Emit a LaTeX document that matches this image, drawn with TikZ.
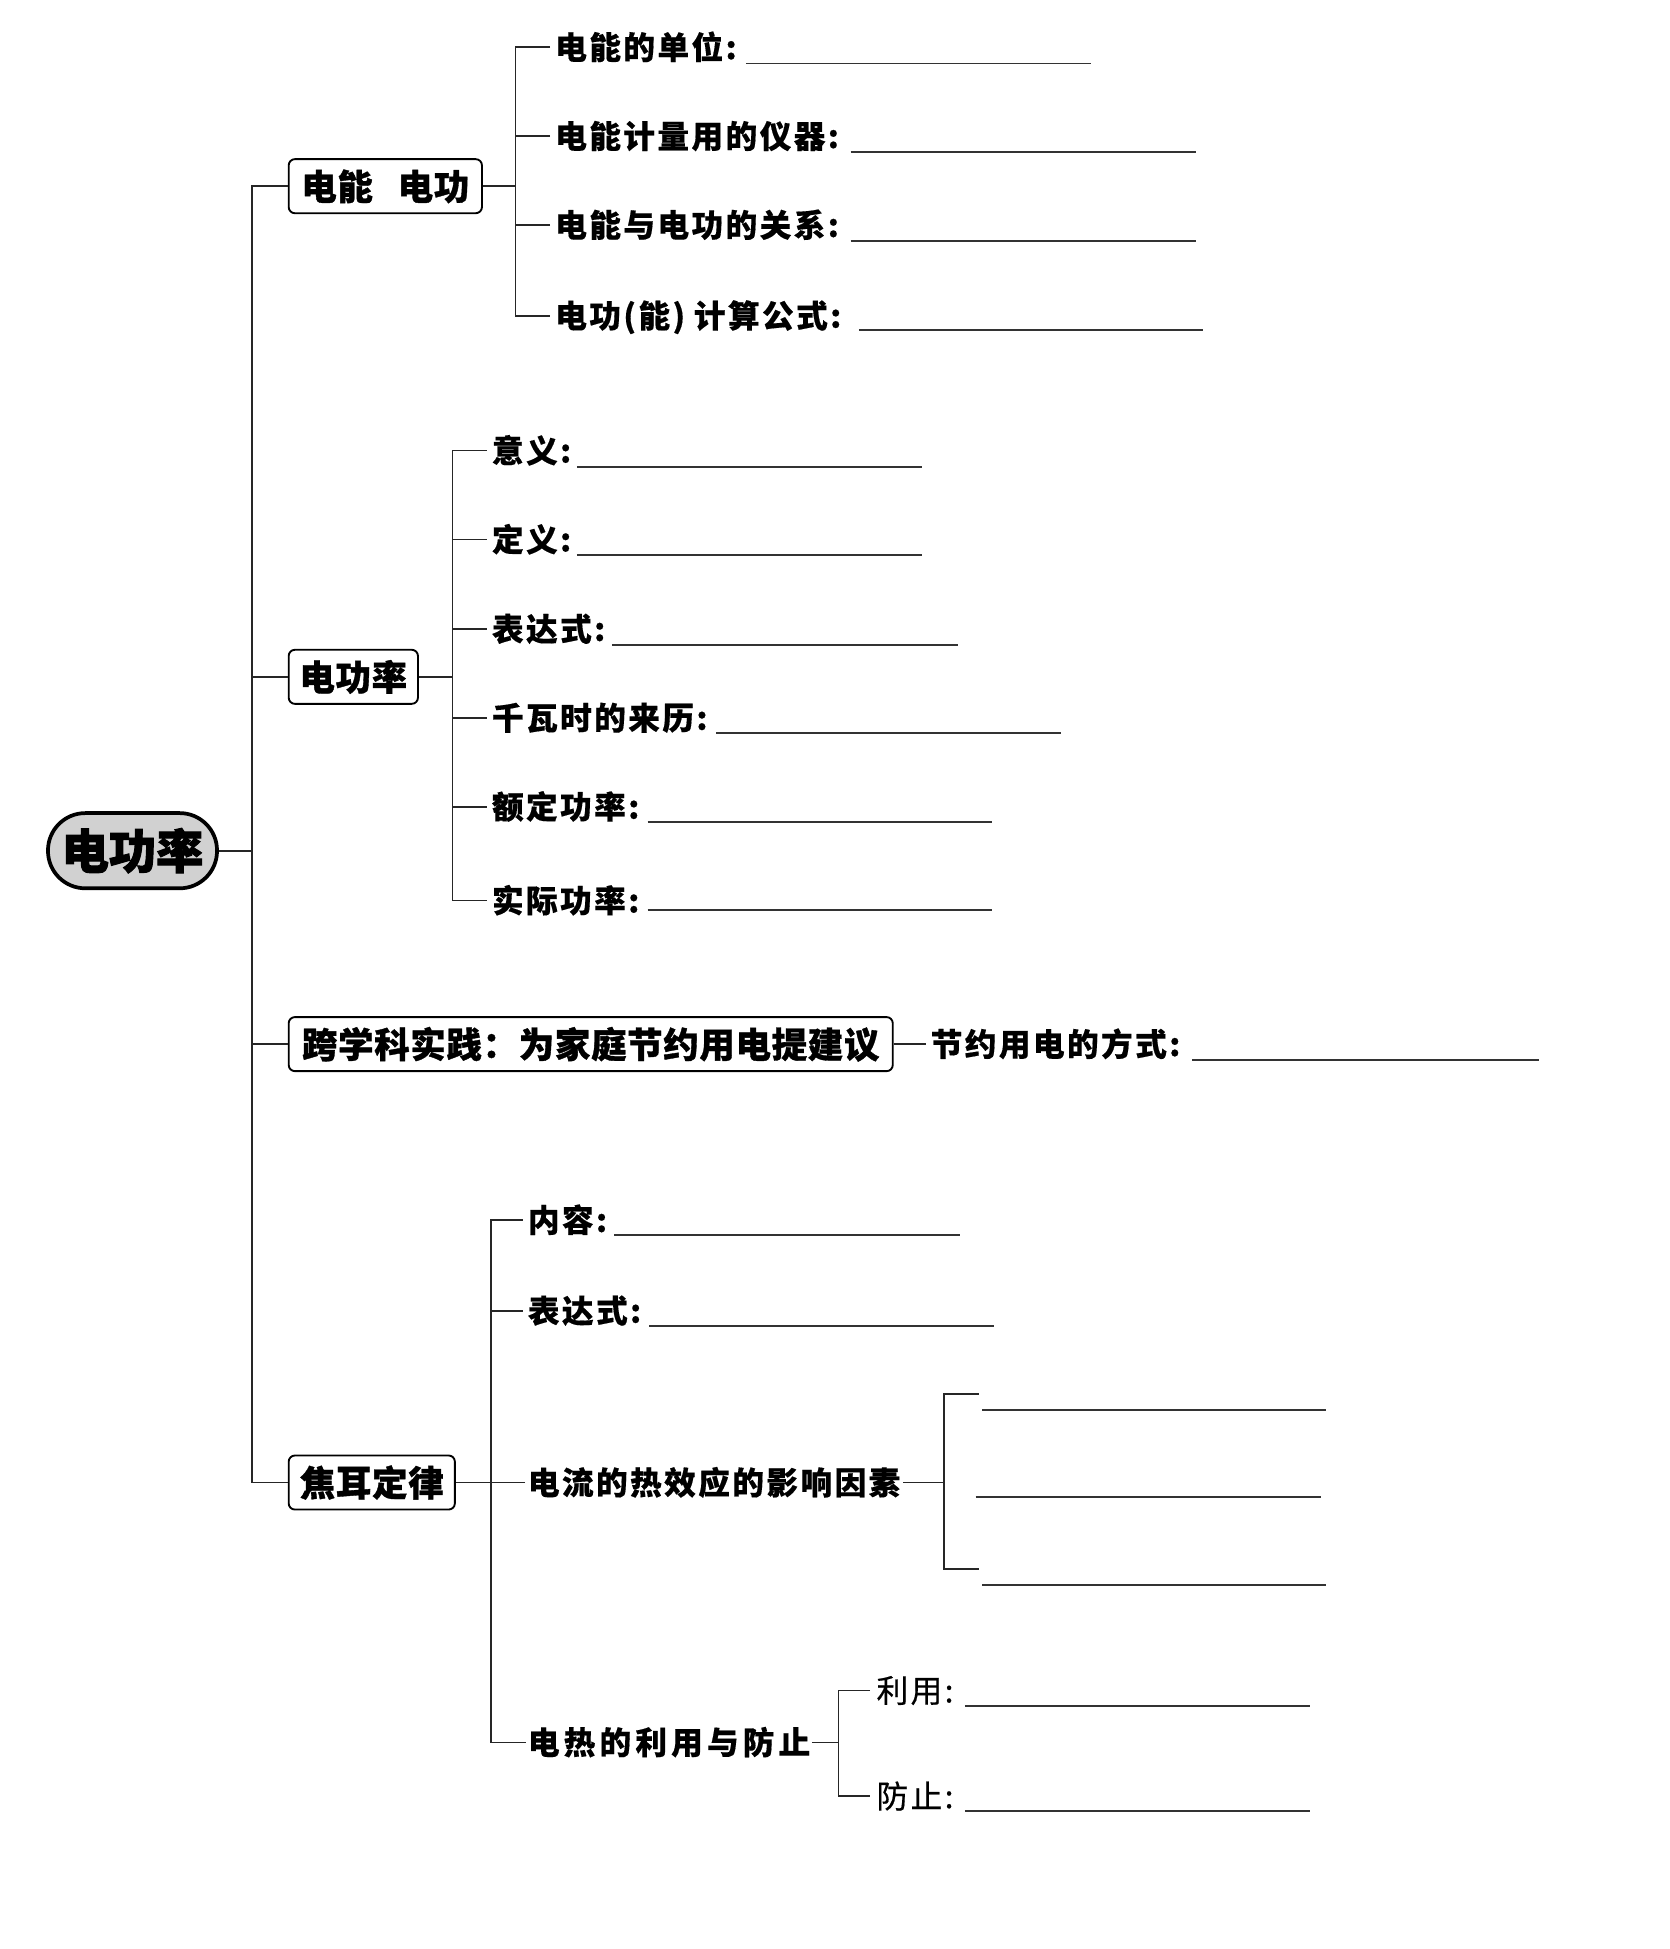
\documentclass[tikz,border=0pt]{standalone}
\usepackage{fontspec}
\newfontfamily\itemf[LetterSpace=7.5,FakeBold=0.4]{Noto Sans CJK SC}
\newfontfamily\itemwide[LetterSpace=13,FakeBold=0.4]{Noto Sans CJK SC}
\newfontfamily\itemlt[LetterSpace=7.5,FakeBold=0.5]{Noto Sans CJK SC}
\newfontfamily\boxf[LetterSpace=2,FakeBold=1]{Noto Sans CJK SC}
\newfontfamily\rootf[FakeBold=2]{Noto Sans CJK SC}
\begin{document}
\begin{tikzpicture}[x=1pt,y=-1pt,
  conn/.style={line width=1.3pt, draw=black!85},
  blank/.style={line width=1.4pt, draw=black!80},
  itm/.style={anchor=west, inner xsep=4pt, inner ysep=0pt,
    font=\itemf\bfseries\fontsize{25.5}{28}\selectfont, text height=21pt, text depth=1.8pt},
  itmlight/.style={itm, font=\itemlt\fontsize{25.5}{28}\selectfont},
  itmwide/.style={itm, font=\itemwide\bfseries\fontsize{25.5}{28}\selectfont},
  boxn/.style={draw, line width=1.5pt, rounded corners=5pt, inner sep=0pt, anchor=west,
    font=\boxf\bfseries\fontsize{28.5}{30}\selectfont, text height=24pt, text depth=2pt,
    minimum height=43.5pt},
  rootbox/.style={draw, line width=3pt, rounded corners=30pt, fill=black!18,
    minimum width=136pt, minimum height=60.5pt, inner sep=0pt,
    font=\rootf\bfseries\fontsize{38}{40}\selectfont, text height=32pt, text depth=3pt}
]
\useasboundingbox (0,0) rectangle (1343,1568);

% root
\node[rootbox] (r) at (106.6,684.4) {电功率};
\coordinate (T) at (202.8,684.4);

% level-1 boxes
\node[boxn, minimum width=155.5pt] (b1) at (231.5,149.8) {电能\hspace{20pt}电功};
\node[boxn, minimum width=104pt] (b2) at (231.5,544.5) {电功率};
\node[boxn, minimum width=486pt] (b3) at (231.5,840) {跨学科实践：为家庭节约用电提建议};
\node[boxn, minimum width=133.7pt] (b4) at (231.5,1192.7) {焦耳定律};

% trunk
\draw[conn] (r.east) -- (T);
\draw[conn] (b1.west) -- (b1.west -| T) -- (b4.west -| T) -- (b4.west);
\draw[conn] (b2.west) -- (b2.west -| T);
\draw[conn] (b3.west) -- (b3.west -| T);

% group 1
\coordinate (J1) at (414.8,149.8);
\node[itm] (a1) at (442.5,38) {电能的单位:};
\node[itm] (a2) at (442.5,109.5) {电能计量用的仪器:};
\node[itm] (a3) at (442.5,181) {电能与电功的关系:};
\node[itm] (a4) at (442.5,254) {电功(能)\hspace{7pt}计算公式:};
\draw[conn] (b1.east) -- (J1);
\draw[conn] (a1.west) -| (J1) |- (a4.west);
\draw[conn] (a2.west) -- (a2.west -| J1);
\draw[conn] (a3.west) -- (a3.west -| J1);
\draw[blank] (600,51) -- (878,51);
\draw[blank] (684.4,122.5) -- (962.4,122.5);
\draw[blank] (684.4,194) -- (962.4,194);
\draw[blank] (691,265.6) -- (968,265.6);

% group 2
\coordinate (J2) at (364,544.5);
\node[itm] (p1) at (391.6,362.5) {意义:};
\node[itm] (p2) at (391.6,434) {定义:};
\node[itm] (p3) at (391.6,506) {表达式:};
\node[itm] (p4) at (391.6,577.5) {千瓦时的来历:};
\node[itm] (p5) at (391.6,649) {额定功率:};
\node[itm] (p6) at (391.6,724.5) {实际功率:};
\draw[conn] (b2.east) -- (J2);
\draw[conn] (p1.west) -| (J2) |- (p6.west);
\foreach \n in {p2,p3,p4,p5} \draw[conn] (\n.west) -- (\n.west -| J2);
\draw[blank] (464,375.5) -- (742,375.5);
\draw[blank] (464,446.6) -- (742,446.6);
\draw[blank] (492.3,519) -- (770.7,519);
\draw[blank] (576.4,590) -- (853.6,590);
\draw[blank] (521,661.2) -- (798.4,661.2);
\draw[blank] (521,732.2) -- (798.4,732.2);

% group 3
\node[itm] (s1) at (744.6,840) {节约用电的方式:};
\draw[conn] (b3.east) -- (s1.west);
\draw[blank] (959,853) -- (1238,853);

% group 4
\coordinate (J4) at (395.2,1192.7);
\node[itm] (q1) at (420.5,981.5) {内容:};
\node[itm] (q2) at (420.5,1054.5) {表达式:};
\node[itm, inner xsep=2pt] (q3) at (422.5,1192.7) {电流的热效应的影响因素};
\node[itmwide, inner xsep=1pt] (q4) at (423.5,1401.7) {电热的利用与防止};
\draw[conn] (b4.east) -- (J4);
\draw[conn] (q1.west) -| (J4) |- (q4.west);
\draw[conn] (q2.west) -- (q2.west -| J4);
\draw[conn] (q3.west) -- (J4);
\draw[blank] (494,993.6) -- (772.3,993.6);
\draw[blank] (522.2,1067) -- (800,1067);

% factors bracket
\coordinate (J5) at (759.3,1192.7);
\coordinate (f1) at (787.6,1121.4);
\coordinate (f3) at (787.6,1262.3);
\draw[conn] (q3.east) -- (J5);
\draw[conn] (f1) -| (J5) |- (f3);
\draw[blank] (790.4,1134.1) -- (1067,1134.1);
\draw[blank] (784.8,1204.2) -- (1062.5,1204.2);
\draw[blank] (790.4,1275) -- (1067,1275);

% use / prevent
\coordinate (J6) at (674.6,1401.7);
\node[itmlight, inner xsep=5pt] (u1) at (700,1360) {利用:};
\node[itmlight, inner xsep=5pt] (u2) at (700,1445) {防止:};
\draw[conn] (q4.east) -- (J6);
\draw[conn] (u1.west) -| (J6) |- (u2.west);
\draw[blank] (776.2,1372.5) -- (1054,1372.5);
\draw[blank] (776.2,1457) -- (1054,1457);
\end{tikzpicture}
\end{document}
